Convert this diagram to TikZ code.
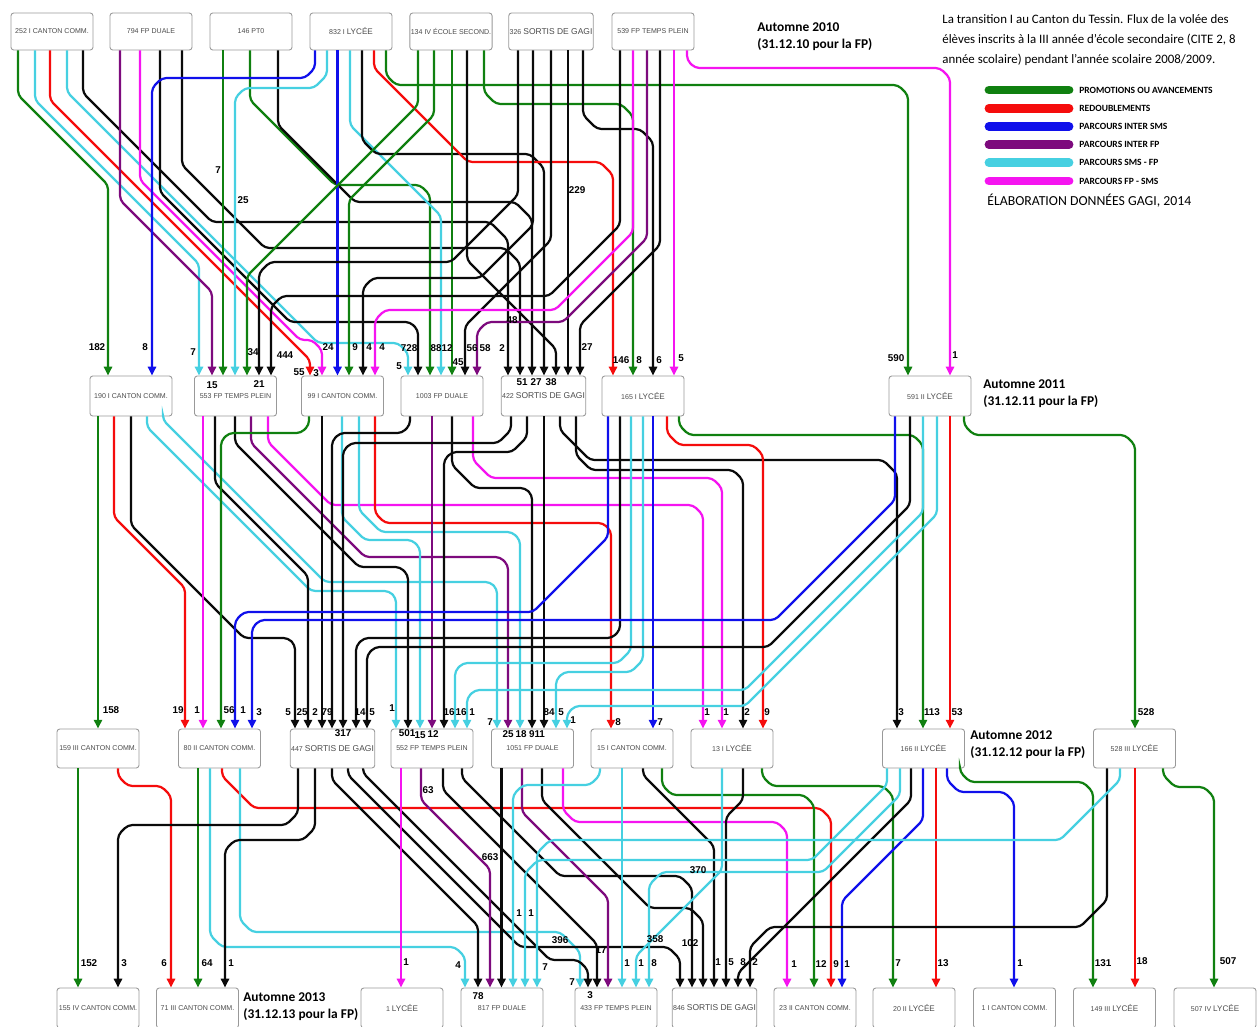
\documentclass[tikz,border=0pt]{standalone}
\usepackage{fontspec}
\setmainfont{Liberation Sans}
\newfontfamily\calib{Carlito}
\usetikzlibrary{arrows.meta}
\definecolor{gG}{RGB}{16,128,16}
\definecolor{rD}{RGB}{245,12,12}
\definecolor{bL}{RGB}{16,16,235}
\definecolor{pU}{RGB}{125,10,125}
\definecolor{cY}{RGB}{70,208,225}
\definecolor{mG}{RGB}{245,20,240}
\definecolor{bK}{RGB}{10,10,10}
\newcommand\nf{\fontsize{4}{5}\selectfont}
\newcommand\sg[1]{{\fontsize{4.8}{5}\selectfont #1}}
\newcommand\ly[1]{{\fontsize{4.6}{5}\selectfont #1}}
\newcounter{lc}
\newcommand\lbl[3]{\stepcounter{lc}\node[lb] (lab\arabic{lc}) at (#1,#2) {#3};}
\newcommand\flw[6]{\draw[flo,#1] (#2,0 |- #3.south) #4 -- (#5,0 |- #6.north);}
\tikzset{
 bx/.style={draw=black!40, line width=0.5pt, rounded corners=1.6pt, fill=white, minimum width=46.5pt, inner sep=0.5pt, font=\nf, text=black!70},
 ra/.style={bx, minimum height=21pt},
 rb/.style={bx, minimum height=22.7pt},
 rc/.style={bx, minimum height=22.1pt},
 rdd/.style={bx, minimum height=22.7pt},
 flo/.style={line width=1.25pt, rounded corners=2.5pt, -{Triangle[length=5pt,width=4.6pt]}},
 lb/.style={font=\fontsize{5.6}{6}\selectfont\bfseries, inner sep=0.3pt},
 au/.style={anchor=north west, align=left, inner sep=0, font=\calib\bfseries\fontsize{7.6}{10}\selectfont},
}
\begin{document}
\begin{tikzpicture}[x=0.5669pt,y=-0.5669pt]
\useasboundingbox (0,0) rectangle (1257,1026);
\fill[white] (0,0) rectangle (1257,1026);
% ---------- nodes
\node[ra] (A1) at (52,31.5) {252 I CANTON COMM.};
\node[ra] (A2) at (151,31.5) {794 FP DUALE};
\node[ra] (A3) at (251,31.5) {146 PT0};
\node[ra] (A4) at (351,31.5) {832 I \ly{LYCÉE}};
\node[ra] (A5) at (451,31.5) {134 IV ÉCOLE SECOND.};
\node[ra] (A6) at (551,31.5) {326 \sg{SORTIS DE GAGI}};
\node[ra] (A7) at (653,31.5) {539 FP TEMPS PLEIN};
\node[rb] (B1) at (131,396) {190 I CANTON COMM.};
\node[rb] (B2) at (235.5,396) {553 FP TEMPS PLEIN};
\node[rb] (B3) at (342.5,396) {99 I CANTON COMM.};
\node[rb] (B4) at (442,396) {1003 FP DUALE};
\node[rb] (B5) at (543.5,396) {422 \sg{SORTIS DE GAGI}};
\node[rb] (B6) at (643,396) {165 I \ly{LYCÉE}};
\node[rb] (B7) at (930,396) {591 II \ly{LYCÉE}};
\node[rc] (C1) at (98,748.5) {159 III CANTON COMM.};
\node[rc] (C2) at (219.5,748.5) {80 II CANTON COMM.};
\node[rc] (C3) at (332.5,748.5) {447 \sg{SORTIS DE GAGI}};
\node[rc] (C4) at (432,748.5) {552 FP TEMPS PLEIN};
\node[rc] (C5) at (532.5,748.5) {1051 FP DUALE};
\node[rc] (C6) at (632,748.5) {15 I CANTON COMM.};
\node[rc] (C7) at (732,748.5) {13 I \ly{LYCÉE}};
\node[rc] (C8) at (923.5,748.5) {166 II \ly{LYCÉE}};
\node[rc] (C9) at (1134.5,748.5) {528 III \ly{LYCÉE}};
\node[rdd] (D1) at (98,1008) {155 IV CANTON COMM.};
\node[rdd] (D2) at (197.5,1008) {71 III CANTON COMM.};
\node[rdd] (D3) at (402,1008) {1 \ly{LYCÉE}};
\node[rdd] (D4) at (502,1008) {817 FP DUALE};
\node[rdd] (D5) at (616,1008) {433 FP TEMPS PLEIN};
\node[rdd] (D6) at (714.5,1008) {846 \sg{SORTIS DE GAGI}};
\node[rdd] (D7) at (815,1008) {23 II CANTON COMM.};
\node[rdd] (D8) at (914,1008) {20 II \ly{LYCÉE}};
\node[rdd] (D9) at (1014.5,1008) {1 I CANTON COMM.};
\node[rdd] (D10) at (1114.5,1008) {149 III \ly{LYCÉE}};
\node[rdd] (D11) at (1215,1008) {507 IV \ly{LYCÉE}};
% ---------- edges row1 -> row2
\flw{gG}{18}{A1}{--(18,95)--(108,185)}{108}{B1}
\flw{cY}{35}{A1}{--(35,100)--(199,264)}{199}{B2}
\flw{rD}{50}{A1}{--(50,100)--(310,360)}{310}{B3}
\flw{cY}{67}{A1}{--(67,92)--(318,343)--(398,343)--(408,353)}{408}{B4}
\flw{bK}{83}{A1}{--(83,93)--(212,222)--(490,222)--(508,240)}{508}{B5}
\flw{pU}{120}{A2}{--(120,200)--(212,292)}{212}{B2}
\flw{mG}{140}{A2}{--(140,180)--(300,340)--(312,340)--(322,350)}{322}{B3}
\flw{bK}{160}{A2}{--(160,192)--(290,322)--(410,322)--(418,330)}{418}{B4}
\flw{bK}{182}{A2}{--(182,165)--(265,248)--(505,248)--(520,263)}{520}{B5}
\flw{gG}{223}{A3}{}{223}{B2}
\flw{gG}{250}{A3}{--(250,100)--(335,185)--(420,185)--(430,195)}{430}{B4}
\flw{bK}{278}{A3}{--(278,125)--(355,202)--(515,202)--(532,219)}{532}{B5}
\flw{bL}{315}{A4}{--(315,68)--(305,78)--(162,78)--(152,88)}{152}{B1}
\flw{cY}{327}{A4}{--(327,75)--(314,88)--(245,88)--(235,98)}{235}{B2}
\flw{bL}{337.5}{A4}{}{337.5}{B3}
\flw{cY}{350}{A4}{--(350,125)--(441,216)}{441}{B4}
\flw{bK}{362}{A4}{--(362,140)--(376,154)--(530,154)--(544,168)}{544}{B5}
\flw{rD}{374}{A4}{--(374,68)--(468,162)--(600,162)--(613,175)}{613}{B6}
\flw{gG}{386}{A4}{--(386,75)--(396,85)--(898,85)--(908,95)}{908}{B7}
\flw{gG}{418}{A5}{--(418,105)--(257,266)--(247,276)}{247}{B2}
\flw{gG}{434}{A5}{--(434,115)--(349,200)}{349}{B3}
\flw{gG}{452}{A5}{}{452}{B4}
\flw{bK}{467}{A5}{--(467,260)--(556,349)}{556}{B5}
\flw{gG}{484}{A5}{--(484,92)--(496,104)--(621,104)--(633,116)}{633}{B6}
\flw{bK}{518}{A6}{--(518,195)--(451,262)--(270,262)--(259,273)}{259}{B2}
\flw{bK}{533}{A6}{--(533,225)--(480,278)--(373,278)--(363,288)}{363}{B3}
\flw{bK}{551}{A6}{--(551,240)--(465,326)}{465}{B4}
\flw{bK}{568}{A6}{}{568}{B5}
\flw{bK}{583}{A6}{--(583,115)--(597,129)--(640,129)--(653,142)}{653}{B6}
\flw{bK}{620}{A7}{--(620,225)--(549,296)--(282,296)--(271,307)}{271}{B2}
\flw{mG}{633}{A7}{--(633,232)--(555,310)--(385,310)--(375,320)}{375}{B3}
\flw{pU}{647}{A7}{--(647,238)--(563,322)--(487,322)--(477,332)}{477}{B4}
\flw{bK}{660}{A7}{--(660,245)--(580,325)}{580}{B5}
\flw{mG}{674}{A7}{}{674}{B6}
\flw{mG}{687}{A7}{--(687,60)--(695,68)--(940,68)--(950,78)}{950}{B7}
% ---------- edges row2 -> row3
\flw{gG}{98}{B1}{}{98}{C1}
\flw{rD}{114}{B1}{--(114,517)--(185,588)}{185}{C2}
\flw{bK}{131}{B1}{--(131,525)--(244,638)--(288,638)--(295,645)}{295}{C3}
\flw{cY}{147}{B1}{--(147,427)--(311,591)--(389,591)--(396,598)}{396}{C4}
\flw{cY}{163}{B1}{--(163,420)--(325,582)--(490,582)--(497,589)}{497}{C5}
\flw{mG}{203}{B2}{}{203}{C2}
\flw{bK}{215}{B2}{--(215,483)--(308,576)}{308}{C3}
\flw{bK}{235}{B2}{--(235,443)--(359,567)--(400,567)--(408,575)}{408}{C4}
\flw{pU}{251}{B2}{--(251,443)--(365,557)--(500,557)--(508,565)}{508}{C5}
\flw{mG}{268}{B2}{--(268,442)--(331,505)--(693,505)--(703,515)}{703}{C7}
\flw{gG}{309}{B3}{--(309,425)--(301,433)--(229,433)--(221,441)}{221}{C2}
\flw{bK}{322}{B3}{}{322}{C3}
\flw{cY}{342}{B3}{--(342,517)--(365,540)--(412,540)--(420,548)}{420}{C4}
\flw{cY}{359}{B3}{--(359,510)--(381,532)--(512,532)--(520,540)}{520}{C5}
\flw{rD}{375}{B3}{--(375,513)--(385,523)--(603,523)--(611,531)}{611}{C6}
\flw{bK}{410}{B4}{--(410,425)--(402,433)--(340,433)--(332,441)}{332}{C3}
\flw{pU}{432}{B4}{}{432}{C4}
\flw{bK}{452}{B4}{--(452,465)--(475,488)--(525,488)--(532,495)}{532}{C5}
\flw{mG}{473}{B4}{--(473,460)--(491,478)--(712,478)--(722,488)}{722}{C7}
\flw{bK}{511}{B5}{--(511,430)--(498,443)--(351,443)--(343,451)}{343}{C3}
\flw{bK}{527}{B5}{--(527,437)--(512,452)--(452,452)--(444,460)}{444}{C4}
\flw{bK}{544}{B5}{}{544}{C5}
\flw{bK}{560}{B5}{--(560,430)--(590,460)--(883,460)--(897,474)}{897}{C8}
\flw{bK}{576}{B5}{--(576,455)--(591,470)--(733,470)--(743,480)}{743}{C7}
\flw{bL}{608}{B6}{--(608,537)--(533,612)--(244,612)--(235,621)}{235}{C2}
\flw{bK}{620}{B6}{--(620,630)--(612,638)--(364,638)--(356,646)}{356}{C3}
\flw{cY}{631}{B6}{--(631,650)--(618,663)--(463,663)--(455,671)}{455}{C4}
\flw{cY}{643}{B6}{--(643,660)--(631,672)--(564,672)--(556,680)}{556}{C5}
\flw{bL}{653}{B6}{}{653}{C6}
\flw{rD}{667}{B6}{--(667,433)--(679,445)--(753,445)--(763,455)}{763}{C7}
\flw{gG}{679}{B6}{--(679,425)--(689,435)--(913,435)--(923,445)}{923}{C8}
\flw{bL}{895}{B7}{--(895,500)--(775,620)--(260,620)--(252,628)}{252}{C2}
\flw{bK}{910}{B7}{--(910,505)--(768,647)--(375,647)--(367,655)}{367}{C3}
\flw{cY}{923}{B7}{--(923,512)--(745,690)--(475,690)--(467,698)}{467}{C4}
\flw{cY}{937}{B7}{--(937,514)--(745,706)--(575,706)--(567,714)}{567}{C5}
\flw{rD}{950}{B7}{}{950}{C8}
\flw{gG}{964}{B7}{--(964,425)--(974,435)--(1125,435)--(1135,445)}{1135}{C9}
% ---------- edges row3 -> row4
\flw{gG}{78}{C1}{}{78}{D1}
\flw{rD}{118}{C1}{--(118,776)--(128,786)--(161,786)--(171,796)}{171}{D2}
\flw{gG}{198}{C2}{}{198}{D2}
\flw{cY}{210}{C2}{--(210,935)--(222,947)--(455,947)--(465,957)}{465}{D4}
\flw{rD}{222}{C2}{--(222,776)--(254,808)--(820,808)--(831,819)}{831}{D7}
\flw{cY}{240}{C2}{--(240,920)--(252,932)--(560,932)--(580,952)}{580}{D5}
\flw{bK}{298}{C3}{--(298,813)--(286,825)--(128,825)--(118,835)}{118}{D1}
\flw{bK}{315}{C3}{--(315,828)--(303,840)--(235,840)--(225,850)}{225}{D2}
\flw{bK}{332}{C3}{--(332,780)--(478,926)}{478}{D4}
\flw{bK}{348}{C3}{--(348,775)--(520,947)--(668,947)--(680,959)}{680}{D6}
\flw{bK}{363}{C3}{--(363,773)--(550,960)--(578,960)--(588,970)}{588}{D5}
\flw{mG}{401}{C4}{}{401}{D3}
\flw{pU}{421}{C4}{--(421,800)--(490,869)}{490}{D4}
\flw{bK}{443}{C4}{--(443,790)--(597,944)}{597}{D5}
\flw{bK}{462}{C4}{--(462,778)--(560,876)--(680,876)--(692,888)}{692}{D6}
\flw{bK}{501.5}{C5}{}{501.5}{D4}
\flw{pU}{522}{C5}{--(522,812)--(608,898)}{608}{D5}
\flw{bK}{542}{C5}{--(542,800)--(650,908)--(690,908)--(703,921)}{703}{D6}
\flw{mG}{563}{C5}{--(563,810)--(575,822)--(777,822)--(787,832)}{787}{D7}
\flw{cY}{600}{C6}{--(600,775)--(590,785)--(523,785)--(513,795)}{513}{D4}
\flw{cY}{622}{C6}{}{622}{D5}
\flw{bK}{643}{C6}{--(643,775)--(714,846)}{714}{D6}
\flw{gG}{662}{C6}{--(662,785)--(672,795)--(804,795)--(814,805)}{814}{D7}
\flw{cY}{722}{C7}{--(722,870)--(636,956)}{636}{D5}
\flw{bK}{743}{C7}{--(743,800)--(726,817)}{726}{D6}
\flw{gG}{762}{C7}{--(762,776)--(772,786)--(883,786)--(893,796)}{893}{D8}
\flw{cY}{887}{C8}{--(887,785)--(812,860)--(538,860)--(525,873)}{525}{D4}
\flw{cY}{900}{C8}{--(900,795)--(823,872)--(662,872)--(649,885)}{649}{D5}
\flw{bK}{911}{C8}{--(911,800)--(748,963)--(738,973)}{738}{D6}
\flw{bL}{923}{C8}{--(923,820)--(842,901)}{842}{D7}
\flw{rD}{936}{C8}{}{936}{D8}
\flw{bL}{947}{C8}{--(947,780)--(959,792)--(1004,792)--(1014,802)}{1014}{D9}
\flw{gG}{960}{C8}{--(960,772)--(970,782)--(1083,782)--(1093,792)}{1093}{D10}
\flw{bK}{1107}{C9}{--(1107,900)--(1080,927)--(770,927)--(750,947)}{750}{D6}
\flw{cY}{1120}{C9}{--(1120,780)--(1060,840)--(550,840)--(537,853)}{537}{D4}
\flw{rD}{1135}{C9}{}{1135}{D10}
\flw{gG}{1163}{C9}{--(1163,775)--(1175,787)--(1204,787)--(1214,797)}{1214}{D11}
% ---------- labels
\lbl{218}{170}{7}\lbl{243}{200}{25}\lbl{577}{190}{229}\lbl{512}{320}{48}
\lbl{97}{347}{182}\lbl{145}{347}{8}\lbl{193}{352}{7}\lbl{212}{385}{15}
\lbl{253}{352}{34}\lbl{259}{384}{21}\lbl{285}{355}{444}
\lbl{299}{372}{55}\lbl{316}{373}{3}\lbl{328}{347}{24}\lbl{355}{347}{9}
\lbl{369}{347}{4}\lbl{382}{347}{4}
\lbl{399}{366}{5}\lbl{409}{348}{728}\lbl{436}{348}{88}\lbl{447}{348}{12}
\lbl{458}{362}{45}\lbl{472}{348}{56}\lbl{485}{348}{58}
\lbl{502}{348}{2}\lbl{522}{382}{51}\lbl{536}{382}{27}\lbl{551}{382}{38}\lbl{587}{347}{27}
\lbl{621}{360}{146}\lbl{639}{360}{8}\lbl{659}{360}{6}\lbl{681}{358}{5}
\lbl{896}{358}{590}\lbl{955}{355}{1}
\lbl{111}{710}{158}
\lbl{178}{710}{19}\lbl{197}{710}{1}\lbl{229}{710}{56}\lbl{243}{710}{1}\lbl{259}{712}{3}
\lbl{288}{712}{5}\lbl{302}{712}{25}\lbl{315}{712}{2}\lbl{327}{712}{79}\lbl{360}{712}{14}\lbl{372}{712}{5}
\lbl{343}{733}{317}
\lbl{392}{708}{1}\lbl{407}{733}{501}\lbl{420}{735}{15}\lbl{433}{734}{12}\lbl{449}{712}{16}\lbl{461}{712}{16}\lbl{472}{712}{1}
\lbl{490}{722}{7}\lbl{508}{734}{25}\lbl{521}{734}{18}\lbl{537}{734}{911}\lbl{549}{712}{84}\lbl{561}{712}{5}\lbl{573}{720}{1}
\lbl{618}{722}{8}\lbl{660}{722}{7}
\lbl{707}{712}{1}\lbl{726}{712}{1}\lbl{747}{712}{2}\lbl{767}{712}{9}
\lbl{901}{712}{3}\lbl{932}{712}{113}\lbl{957}{712}{53}\lbl{1146}{712}{528}
\lbl{89}{963}{152}\lbl{124}{963}{3}\lbl{164}{963}{6}\lbl{207}{963}{64}\lbl{231}{963}{1}\lbl{406}{962}{1}
\lbl{458}{965}{4}\lbl{478}{996}{78}\lbl{545}{967}{7}\lbl{519}{913}{1}\lbl{531}{913}{1}\lbl{428}{790}{63}\lbl{490}{857}{663}
\lbl{572}{982}{7}\lbl{590}{995}{3}\lbl{560}{940}{396}\lbl{601}{950}{17}\lbl{627}{963}{1}\lbl{641}{963}{1}\lbl{654}{963}{8}
\lbl{655}{939}{358}\lbl{698}{870}{370}\lbl{690}{943}{102}\lbl{718}{962}{1}\lbl{731}{962}{5}\lbl{743}{962}{8}\lbl{755}{962}{2}
\lbl{794}{964}{1}\lbl{821}{964}{12}\lbl{836}{964}{9}\lbl{847}{964}{1}
\lbl{898}{963}{7}\lbl{943}{963}{13}\lbl{1020}{963}{1}\lbl{1103}{963}{131}\lbl{1142}{961}{18}\lbl{1228}{961}{507}
% ---------- texts
\node[au] (au10) at (757,22) {Automne 2010\\(31.12.10 pour la FP)};
\node[au] (au11) at (983,379) {Automne 2011\\(31.12.11 pour la FP)};
\node[au] (au12) at (970,730) {Automne 2012\\(31.12.12 pour la FP)};
\node[au] (au13) at (243,992) {Automne 2013\\(31.12.13 pour la FP)};
\node[anchor=north west, align=left, inner sep=0, font=\calib\fontsize{7.3}{11.4}\selectfont] (title) at (942,14)
 {La transition I au Canton du Tessin. Flux de la volée des\\élèves inscrits à la III année d’école secondaire (CITE 2, 8\\année scolaire) pendant l’année scolaire 2008/2009.};
\foreach \c/\t [count=\i] in {gG/PROMOTIONS OU AVANCEMENTS, rD/REDOUBLEMENTS, bL/PARCOURS INTER SMS, pU/PARCOURS INTER FP, cY/PARCOURS SMS - FP, mG/PARCOURS FP - SMS}{
 \draw[\c, line width=5pt, line cap=round] (989,{90+(\i-1)*18.2}) -- (1069,{90+(\i-1)*18.2});
 \node[anchor=west, inner sep=0, font=\calib\bfseries\fontsize{5.4}{6}\selectfont] (leg\i) at (1079,{90+(\i-1)*18.2}) {\t};
}
\node[anchor=west, inner sep=0, font=\calib\fontsize{7.8}{9}\selectfont] (elab) at (987,201) {ÉLABORATION DONNÉES GAGI, 2014};
\end{tikzpicture}
\end{document}
